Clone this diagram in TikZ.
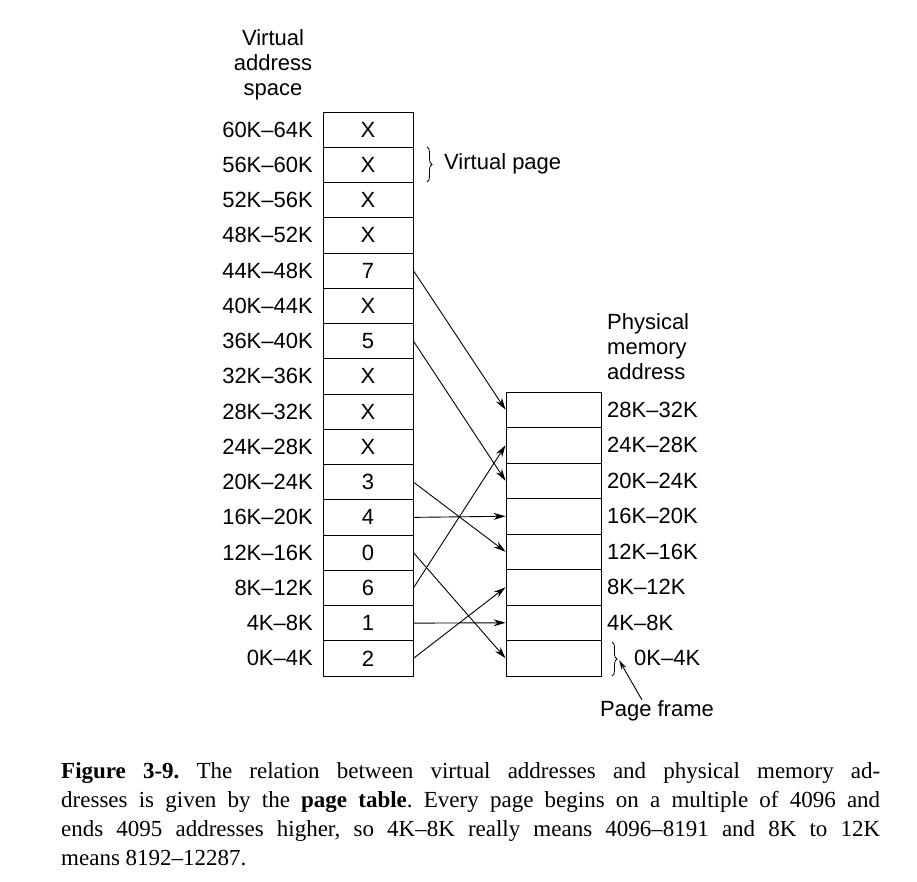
\documentclass[tikz,border=0pt]{standalone}
\usepackage{fontspec}
\setmainfont{Liberation Sans}
\newfontfamily\capfont[Ligatures=TeX]{Liberation Serif}
\usetikzlibrary{arrows.meta,decorations.pathreplacing}
\begin{document}
\begin{tikzpicture}[x=1pt,y=-1pt,
  lbl/.style={font=\fontsize{22}{25}\selectfont, inner sep=0pt},
  cell/.style={draw, line width=0.9pt, minimum width=90pt, minimum height=35.25pt, inner sep=0pt, font=\fontsize{22}{25}\selectfont},
  frame/.style={draw, line width=0.9pt, minimum width=95pt, minimum height=35.5pt, inner sep=0pt},
  arr/.style={line width=0.9pt, -{Stealth[length=12pt,width=7pt]}}]
\useasboundingbox (0,0) rectangle (917,881);
\node[lbl, align=center] (vh) at (273,65) {Virtual\\address\\space};
\foreach \r/\v/\a in {0/X/60K–64K,1/X/56K–60K,2/X/52K–56K,3/X/48K–52K,4/7/44K–48K,5/X/40K–44K,6/5/36K–40K,7/X/32K–36K,8/X/28K–32K,9/X/24K–28K,10/3/20K–24K,11/4/16K–20K,12/0/12K–16K,13/6/8K–12K,14/1/4K–8K,15/2/0K–4K}{
  \node[cell] (v\r) at (368,{112+(\r+0.5)*35.25}) {\v};
  \node[lbl, anchor=east] (va\r) at (313,{112+(\r+0.5)*35.25}) {\a};
}
\node[lbl, align=left, anchor=north west] (ph) at (607,313) {Physical\\memory\\address};
\foreach \r/\a in {0/28K–32K,1/24K–28K,2/20K–24K,3/16K–20K,4/12K–16K,5/8K–12K,6/4K–8K}{
  \node[frame] (f\r) at (553.5,{392+(\r+0.5)*35.5}) {};
  \node[lbl, anchor=west] (fa\r) at (607,{392+(\r+0.5)*35.5}) {\a};
}
\node[frame] (f7) at (553.5,{392+7.5*35.5}) {};
\node[lbl, anchor=west] (fa7) at (634,658) {0K–4K};
\draw[line width=0.8pt, decorate, decoration={brace, amplitude=5pt}] (427,147) -- (427,182);
\node[lbl, anchor=west] (vp) at (444,164) {Virtual page};
\draw[line width=0.8pt, decorate, decoration={brace, amplitude=5pt}] (612,642) -- (612,676);
\coordinate (b2) at (619,660);
\node[lbl, anchor=north] (pf) at (657,700) {Page frame};
\draw[arr, -{Stealth[length=10pt,width=5pt]}] (pf.north -| 642,0) -- (b2);
\draw[arr] (v4.east) -- (f0.west);
\draw[arr] (v6.east) -- (f2.west);
\draw[arr] (v10.east) -- (f4.west);
\draw[arr] (v11.east) -- (f3.west);
\draw[arr] (v12.east) -- (f7.west);
\draw[arr] (v13.east) -- (f1.west);
\draw[arr] (v14.east) -- (f6.west);
\draw[arr] (v15.east) -- (f5.west);
\node[anchor=north west, inner sep=0pt, text width=819pt, align=justify, font=\capfont\fontsize{23}{29}\selectfont\frenchspacing] (cap) at (61,762)
{\textbf{Figure 3-9.} The relation between virtual addresses and physical memory ad-\linebreak dresses is given by the \textbf{page table}. Every page begins on a multiple of 4096 and\linebreak ends 4095 addresses higher, so 4K–8K really means 4096–8191 and 8K to 12K\linebreak means 8192–12287.};
\end{tikzpicture}
\end{document}
